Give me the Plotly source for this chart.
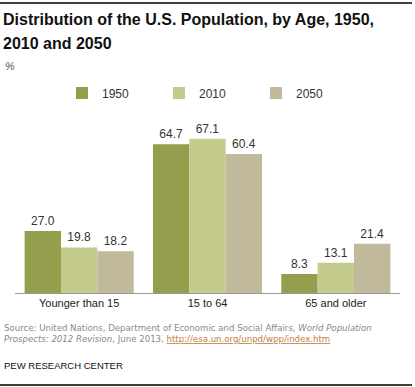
import plotly.graph_objects as go

categories = ["Younger than 15", "15 to 64", "65 and older"]
series_names = ["1950", "2010", "2050"]
values_1950 = [27.0, 64.7, 8.3]
values_2010 = [19.8, 67.1, 13.1]
values_2050 = [18.2, 60.4, 21.4]
colors = ["#949e4c", "#c5ca8d", "#c0b99c"]

W, H = 415, 387
mt, mb, ml, mr = 135, 94, 15, 15
PW, PH = W - ml - mr, H - mt - mb

def px(xp):
    return (xp - ml) / PW

def py(yp_from_top):
    return (H - yp_from_top - mb) / PH

fig = go.Figure()
for name, vals, col in zip(series_names, [values_1950, values_2010, values_2050], colors):
    fig.add_trace(go.Bar(
        x=categories, y=vals, name=name, marker_color=col, marker_line_width=0,
        text=[f"{v:.1f}" for v in vals], textposition="outside",
        textfont=dict(family="Liberation Sans, Arial", size=12, color="#333333"),
        cliponaxis=False, hoverinfo="skip",
    ))

fig.update_layout(
    width=W, height=H,
    margin=dict(t=mt, b=mb, l=ml, r=mr, autoexpand=False),
    paper_bgcolor="white", plot_bgcolor="white",
    barmode="group", bargap=0.15, bargroupgap=0,
    showlegend=True,
    legend=dict(orientation="h", x=0.5, xanchor="center", y=py(93), yanchor="middle",
                font=dict(family="Liberation Sans, Arial", size=12, color="#333333"),
                entrywidth=52, entrywidthmode="pixels", itemwidth=30,
                traceorder="normal"),
    xaxis=dict(showline=True, linecolor="#999999", linewidth=1, showgrid=False,
               ticks="", tickfont=dict(family="Liberation Sans, Arial", size=11, color="#222222")),
    yaxis=dict(range=[0, 68.7], visible=False, showgrid=False, zeroline=False),
    font=dict(family="Liberation Sans, Arial"),
)

title_font = dict(family="Liberation Sans, Arial", size=16, color="#111111")
anns = [
    dict(text="<b>Distribution of the U.S. Population, by Age, 1950,</b>", x=1, y=20, font=title_font),
    dict(text="<b>2010 and 2050</b>", x=1, y=43, font=title_font),
    dict(text="<i>%</i>", x=3, y=66, font=dict(family="Liberation Sans, Arial", size=11, color="#555555")),
    dict(text=("Source: United Nations, Department of Economic and Social Affairs, <i>World Population</i><br>"
               "<i>Prospects: 2012 Revision</i>, June 2013, "
               "<span style='color:#c0803f'><u>http://esa.un.org/unpd/wpp/index.htm</u></span>"),
         x=2, y=333, font=dict(family="DejaVu Sans, Verdana", size=8.6, color="#8a8a8a")),
    dict(text="PEW RESEARCH CENTER", x=2, y=365,
         font=dict(family="Liberation Sans Narrow, Liberation Sans, Arial", size=9.5, color="#111111")),
]
for a in anns:
    fig.add_annotation(xref="paper", yref="paper", showarrow=False, align="left",
                       xanchor="left", yanchor="middle", text=a["text"], font=a["font"],
                       x=px(a["x"]), y=py(a["y"]))

for yl in (3, 385):
    fig.add_shape(type="line", xref="paper", yref="paper",
                  x0=px(0), x1=px(W - 3), y0=py(yl), y1=py(yl),
                  line=dict(color="#000000", width=1.5))

fig.write_html("out.html", config={"displayModeBar": False, "staticPlot": True},
               post_script="document.body.style.margin='0';document.body.style.overflow='hidden';document.documentElement.style.overflow='hidden';")
